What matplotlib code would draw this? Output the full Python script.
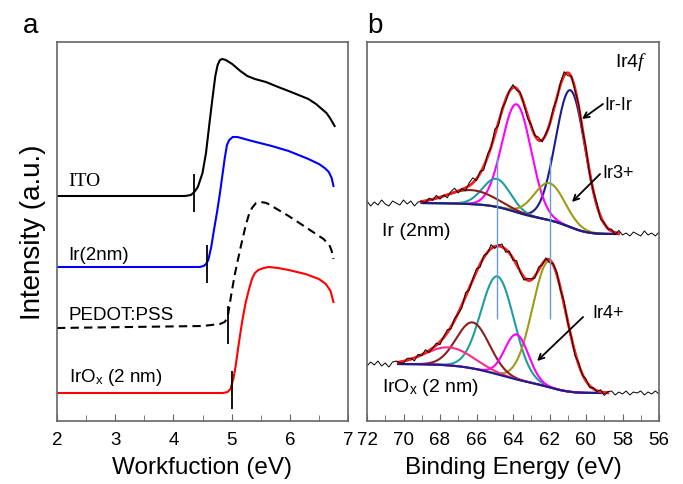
import numpy as np
import matplotlib
matplotlib.use("Agg")
import matplotlib.pyplot as plt
from matplotlib.ticker import MultipleLocator

plt.rcParams['font.family'] = ['Liberation Sans', 'DejaVu Sans']
plt.rcParams['mathtext.fontset'] = 'custom'
plt.rcParams['mathtext.it'] = 'Liberation Serif:italic'
plt.rcParams['mathtext.rm'] = 'Liberation Sans'

# ---------------- Panel a: work-function (secondary electron cut-off) spectra
ito_x = [2.0, 4.2, 4.3, 4.36, 4.42, 4.5, 4.56, 4.62, 4.67, 4.72, 4.76, 4.8, 4.84, 4.9, 5.01,
         5.15, 5.27, 5.4, 5.59, 5.8, 5.98, 6.15, 6.32, 6.45, 6.55, 6.63, 6.69, 6.74, 6.77]
ito_y = [225, 225, 226, 229, 234, 248, 268, 298, 322, 345, 356, 361, 362, 361, 357,
         350, 345, 342, 339, 334, 330, 326, 322, 317, 312, 308, 303, 298, 295]

ir_x = [2.0, 4.45, 4.52, 4.56, 4.6, 4.65, 4.7, 4.75, 4.8, 4.84, 4.88, 4.92, 4.96, 5.02, 5.1,
        5.35, 5.69, 5.98, 6.32, 6.5, 6.6, 6.67, 6.72, 6.75]
ir_y = [154, 154, 155, 157, 161, 174, 192, 209, 228, 245, 262, 276, 281, 284, 284,
        280, 275, 270, 262, 257, 253, 249, 243, 235]

pedot_x = [2.0, 4.5, 4.8, 4.88, 4.93, 4.99, 5.05, 5.1, 5.16, 5.24, 5.3, 5.35, 5.42, 5.5, 5.6,
           5.69, 5.98, 6.32, 6.58, 6.68, 6.72, 6.75]
pedot_y = [93, 95, 97, 99, 103, 125, 145, 159, 175, 195, 207, 213, 218, 219, 218,
           215, 205, 192, 182, 176, 170, 162]

irox_x = [2.0, 4.85, 4.93, 4.98, 5.03, 5.07, 5.12, 5.18, 5.24, 5.3, 5.35, 5.4, 5.46, 5.55, 5.64,
          5.8, 5.98, 6.27, 6.5, 6.62, 6.7, 6.75]
irox_y = [28, 28, 29, 32, 42, 55, 76, 99, 118, 132, 142, 148, 151, 153, 154,
          153, 151, 147, 142, 137, 130, 119]

a_names = ["ITO", "Ir(2nm)", "PEDOT:PSS", r"IrO$_\mathregular{x}$ (2 nm)"]
a_onsets = [4.36, 4.58, 4.93, 5.0]

# ---------------- Panel b: Ir 4f XPS
be_ticks = [72, 70, 68, 66, 64, 62, 60, 58, 56]

# Ir (2nm) spectrum
top_range = [69.0, 58.2]          # fit window (high BE, low BE)
top_levels = [218, 187]           # raw level at high-BE / low-BE side
top_centers = [60.85, 63.8, 64.9, 62.0, 66.3]
top_heights = [137, 108, 28, 37, 14]
top_sigmas = [0.81, 0.80, 0.75, 0.85, 1.3]
top_colors = ['#1c1c8c', '#ff00ff', '#1f9e9e', '#9c9c18', '#8b1e1e']
top_resid = [2, -3, 1, -2, 3, -1, -3, 2, 0, -2, 3, -1, 2, -3, 1, 0, -2, 2, -1, 3,
             -2, 1, -3, 2, 4, -2, 1, -3, 3, 5, -2, 2, -4, 3, -1, 6, -3, 2, -2, 1,
             3, -2, 2, -1, -3, 2, 0, 3, -2, 1, -1, 3, -2, 2, 4, -3, 1, -2, 2, -1,
             3, -2, 0, 2, -3, 1, -1, 2, -2, 3, -1, 1, -2, 2, 0, -2, 3, -1, 1, -2, 2]

# IrOx (2 nm) spectrum
bot_range = [70.3, 58.8]
bot_levels = [57, 28]
bot_centers = [64.85, 62.0, 66.2, 63.8, 67.5]
bot_heights = [98, 126, 46, 45, 18]
bot_sigmas = [0.90, 0.92, 0.90, 0.65, 1.3]
bot_colors = ['#1f9e9e', '#9c9c18', '#8b1e1e', '#ff00ff', '#ff2a8c']
bot_resid = [-2, 2, -1, 3, -2, 1, -3, 2, 3, -1, -2, 2, 1, -3, 2, -1, 3, -2, 0, 2,
             -3, 1, 3, -2, 2, -1, -3, 4, -2, 1, 3, -3, 2, -1, 4, -2, 1, 3, -3, 2,
             -2, 4, -1, -3, 2, 1, -2, 3, -1, 2, -3, 1, 2, -2, 3, -1, 1, -3, 2, -1,
             2, -2, 1, -1, 2, -3, 1, 2, -2, 1, -1, 2, -2, 1, 0, 2, -2, 1, -1, 2, -1]

marker_lines = [64.85, 62.0]


def gauss(e, c, h, s):
    return h * np.exp(-0.5 * ((e - c) / s) ** 2)


def model(rng, levels, centers, heights, sigmas):
    e = np.linspace(rng[0], rng[1], 800)  # decreasing BE
    peaks = [gauss(e, c, h, s) for c, h, s in zip(centers, heights, sigmas)]
    total = np.sum(peaks, axis=0)
    # Shirley-type background: step proportional to area on low-BE side
    rev = total[::-1]
    cum = np.concatenate([[0], np.cumsum(0.5 * (rev[1:] + rev[:-1]))])[::-1]
    bg = levels[1] + (levels[0] - levels[1]) * cum / cum[0]
    return e, bg, peaks, bg + total


fig = plt.figure(figsize=(6.83, 4.85), dpi=100)
axa = fig.add_axes([57 / 683, 63 / 485, 291 / 683, 379 / 485])
axb = fig.add_axes([367 / 683, 63 / 485, 292 / 683, 379 / 485])

# ---- panel a
curves = [(ito_x, ito_y, '#000000', '-'), (ir_x, ir_y, '#0000ff', '-'),
          (pedot_x, pedot_y, '#000000', (0, (4, 2.5))), (irox_x, irox_y, '#ff0000', '-')]
label_y = [240, 167, 106, 44]
label_font = ['Liberation Serif', 'Liberation Sans', 'Liberation Sans', 'Liberation Sans']
for (x, y, col, ls), name, on, ly, fam in zip(curves, a_names, a_onsets, label_y, label_font):
    axa.plot(x, y, color=col, lw=1.5, ls=ls)
    axa.vlines(on, y[0] - 16, y[0] + 22, color='black', lw=1.3)
    axa.text(2.2, ly, name, fontsize=14 if fam == 'Liberation Serif' else 13.5,
             family=fam, va='center', ha='left')

axa.set_xlim(2, 7)
axa.set_ylim(0, 379)
axa.xaxis.set_major_locator(MultipleLocator(1))
axa.xaxis.set_minor_locator(MultipleLocator(0.5))
axa.set_yticks([])
axa.set_xlabel('Workfuction (eV)', fontsize=17.5, labelpad=6)
axa.set_ylabel('Intensity (a.u.)', fontsize=20, labelpad=8)

# ---- panel b
for rng, levels, cen, hei, sig, cols, resid, lab, laby in [
        (top_range, top_levels, top_centers, top_heights, top_sigmas, top_colors, top_resid, 'Ir (2nm)', 190),
        (bot_range, bot_levels, bot_centers, bot_heights, bot_sigmas, bot_colors, bot_resid,
         r'IrO$_\mathregular{x}$ (2 nm)', 34)]:
    e, bg, peaks, env = model(rng, levels, cen, hei, sig)
    for p, c in zip(peaks, cols):
        axb.plot(e, bg + p, color=c, lw=1.5)
    axb.plot(e, bg, color='#1c1c8c', lw=1.5)
    axb.plot(e, env, color='#ff1a1a', lw=2.0)
    de = np.linspace(72, 56, len(resid))
    base = np.where(de > rng[0], levels[0], np.where(de < rng[1], levels[1], 0.0))
    inside = (de <= rng[0]) & (de >= rng[1])
    base[inside] = np.interp(de[inside], e[::-1], env[::-1])
    axb.plot(de, base + np.array(resid), color='black', lw=0.7)
    axb.text(71.2, laby, lab, fontsize=14, va='center', ha='left')

axb.vlines(marker_lines, 102, 264, color='#6b9bd1', lw=1.0)

axb.text(58.4, 360, r'Ir4$\mathit{f}$', fontsize=14, va='center', ha='left')
axb.text(59.0, 317, 'Ir-Ir', fontsize=13, va='center', ha='left')
axb.text(59.1, 249, 'Ir3+', fontsize=13, va='center', ha='left')
axb.text(59.65, 109, 'Ir4+', fontsize=13, va='center', ha='left')
arrow = dict(arrowstyle='->', color='black', lw=1.3, shrinkA=0, shrinkB=0)
axb.annotate('', xy=(60.22, 302), xytext=(59.07, 317), arrowprops=arrow)
axb.annotate('', xy=(60.77, 219), xytext=(59.23, 247), arrowprops=arrow)
axb.annotate('', xy=(62.68, 60), xytext=(60.16, 104), arrowprops=arrow)

axb.set_xlim(72, 56)
axb.set_ylim(0, 379)
axb.set_xticks(be_ticks)
axb.xaxis.set_minor_locator(MultipleLocator(1))
axb.set_yticks([])
axb.set_xlabel('Binding Energy (eV)', fontsize=17.5, labelpad=6)

for ax in (axa, axb):
    for sp in ax.spines.values():
        sp.set_color('#666666')
        sp.set_linewidth(1.2)
    ax.tick_params(axis='x', which='both', direction='in', colors='#666666',
                   labelcolor='black', labelsize=13.5, pad=7)
    ax.tick_params(axis='x', which='major', length=5)
    ax.tick_params(axis='x', which='minor', length=4)

fig.text(23 / 683, 1 - 33 / 485, 'a', fontsize=20, ha='left', va='baseline')
fig.text(367 / 683, 1 - 33 / 485, 'b', fontsize=20, ha='left', va='baseline')

fig.savefig('out.png', dpi=100)
